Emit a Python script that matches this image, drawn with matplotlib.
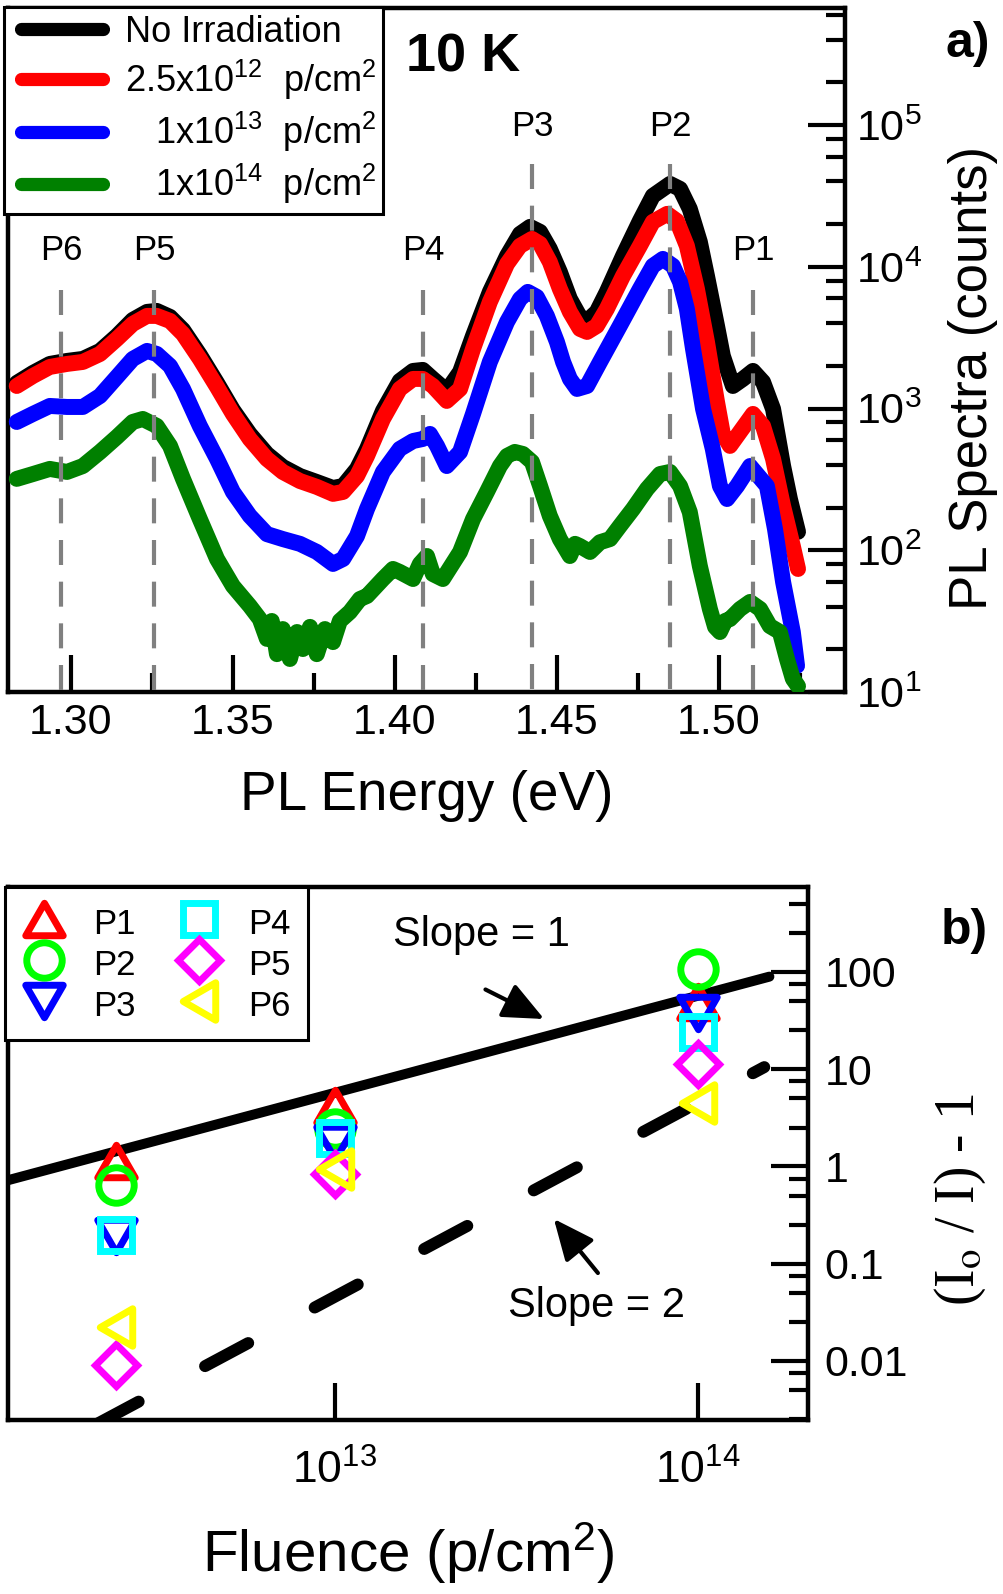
import matplotlib
matplotlib.use("Agg")
import matplotlib.pyplot as plt
from matplotlib.lines import Line2D
from matplotlib.path import Path
from matplotlib.legend_handler import HandlerLine2D
from matplotlib.ticker import (LogLocator, NullLocator, NullFormatter, FuncFormatter,
                               MultipleLocator, LogFormatterSciNotation)

plt.rcParams['font.family'] = 'Liberation Sans'
plt.rcParams['mathtext.fontset'] = 'custom'
plt.rcParams['mathtext.rm'] = 'Liberation Sans'
plt.rcParams['mathtext.it'] = 'Liberation Sans:italic'
plt.rcParams['mathtext.bf'] = 'Liberation Sans:bold'

# ---------------- panel a) : PL spectra at 10 K ----------------
e_black = [1.2833, 1.2883, 1.2935, 1.2988, 1.3037, 1.3090, 1.3142, 1.3191, 1.3235, 1.3265,
           1.3306, 1.3346, 1.3398, 1.3451, 1.3500, 1.3552, 1.3605, 1.3654, 1.3707, 1.3759,
           1.3809, 1.3840, 1.3883, 1.3914, 1.3963, 1.4015, 1.4056, 1.4086, 1.4117, 1.4160,
           1.4201, 1.4241, 1.4293, 1.4346, 1.4386, 1.4417, 1.4448, 1.4478, 1.4509, 1.4540,
           1.4571, 1.4593, 1.4623, 1.4654, 1.4704, 1.4756, 1.4796, 1.4849, 1.4880, 1.4910,
           1.4941, 1.4963, 1.4994, 1.5012, 1.5043, 1.5074, 1.5105, 1.5136, 1.5167, 1.5198,
           1.5219, 1.5244]
pl_black = [1515, 1783, 2064, 2167, 2239, 2550, 3253, 4220, 4806, 4885,
            4431, 3587, 2389, 1515, 977, 662, 478, 387, 334, 303,
            275, 284, 375, 519, 962, 1565, 1842, 1873, 1618, 1331,
            1812, 3253, 6651, 11940, 17070, 19130, 17640, 13380, 9204, 5935,
            4431, 4151, 4806, 6651, 11940, 21090, 31650, 38460, 35450, 25620,
            14990, 8627, 3828, 2351, 1443, 1618, 1842, 1540, 993, 393,
            230, 135]

e_red = [1.2833, 1.2883, 1.2935, 1.2988, 1.3037, 1.3090, 1.3142, 1.3191, 1.3235, 1.3265,
         1.3306, 1.3346, 1.3398, 1.3451, 1.3500, 1.3552, 1.3605, 1.3654, 1.3707, 1.3759,
         1.3809, 1.3840, 1.3883, 1.3914, 1.3963, 1.4015, 1.4056, 1.4086, 1.4117, 1.4160,
         1.4201, 1.4241, 1.4293, 1.4346, 1.4386, 1.4423, 1.4448, 1.4478, 1.4509, 1.4540,
         1.4571, 1.4593, 1.4623, 1.4654, 1.4704, 1.4756, 1.4796, 1.4840, 1.4870, 1.4901,
         1.4932, 1.4963, 1.4994, 1.5012, 1.5034, 1.5065, 1.5105, 1.5136, 1.5167, 1.5198,
         1.5228, 1.5244]
pl_red = [1443, 1698, 1966, 2064, 2132, 2428, 3099, 3955, 4504, 4504,
          4151, 3361, 2239, 1420, 916, 610, 441, 357, 308, 280,
          250, 258, 334, 463, 844, 1375, 1618, 1618, 1443, 1132,
          1375, 2634, 5652, 10480, 14050, 15730, 14510, 10830, 6985, 4806,
          3646, 3472, 3828, 5047, 8627, 14050, 20750, 23630, 21090, 14050,
          6985, 2951, 1113, 662, 545, 684, 916, 754, 441, 205,
          107, 73.8]

e_blue = [1.2833, 1.2883, 1.2935, 1.2988, 1.3037, 1.3090, 1.3142, 1.3191, 1.3235, 1.3265,
          1.3306, 1.3346, 1.3398, 1.3451, 1.3500, 1.3552, 1.3605, 1.3654, 1.3707, 1.3759,
          1.3809, 1.3840, 1.3883, 1.3914, 1.3963, 1.4015, 1.4056, 1.4086, 1.4108, 1.4130,
          1.4160, 1.4201, 1.4241, 1.4293, 1.4346, 1.4386, 1.4410, 1.4438, 1.4469, 1.4500,
          1.4519, 1.4540, 1.4562, 1.4593, 1.4633, 1.4694, 1.4756, 1.4796, 1.4827, 1.4858,
          1.4880, 1.4901, 1.4920, 1.4951, 1.4981, 1.5003, 1.5025, 1.5056, 1.5096, 1.5148,
          1.5173, 1.5198, 1.5228, 1.5241]
pl_blue = [804, 916, 1043, 1026, 1026, 1227, 1671, 2239, 2550, 2428,
           1998, 1375, 754, 441, 258, 175, 130, 120, 111, 97.3,
           80.1, 86.8, 126, 196, 357, 519, 590, 610, 662, 545,
           393, 494, 916, 2132, 4085, 5935, 6651, 6134, 4504, 2951,
           2132, 1618, 1375, 1443, 2132, 3828, 6985, 10150, 11370, 10150,
           7825, 5047, 2634, 993, 519, 284, 230, 284, 393, 284,
           141, 59.7, 26.5, 15.3]

e_green = [1.2833, 1.2883, 1.2935, 1.2988, 1.3037, 1.3090, 1.3142, 1.3191, 1.3222, 1.3265,
           1.3306, 1.3346, 1.3398, 1.3451, 1.3500, 1.3552, 1.3583, 1.3605, 1.3620, 1.3636,
           1.3654, 1.3676, 1.3698, 1.3716, 1.3738, 1.3759, 1.3784, 1.3809, 1.3830, 1.3861,
           1.3892, 1.3914, 1.3963, 1.3994, 1.4015, 1.4056, 1.4077, 1.4099, 1.4117, 1.4148,
           1.4201, 1.4241, 1.4284, 1.4324, 1.4346, 1.4370, 1.4395, 1.4423, 1.4448, 1.4478,
           1.4509, 1.4540, 1.4556, 1.4571, 1.4602, 1.4633, 1.4664, 1.4694, 1.4735, 1.4778,
           1.4818, 1.4849, 1.4880, 1.4910, 1.4941, 1.4972, 1.4988, 1.5003, 1.5019, 1.5034,
           1.5065, 1.5096, 1.5127, 1.5157, 1.5188, 1.5210, 1.5228, 1.5244]
pl_green = [319, 345, 375, 357, 393, 494, 630, 804, 844, 754,
            545, 319, 166, 86.8, 56.0, 40.5, 32.7, 23.7, 31.7, 18.5,
            27.8, 17.1, 26.5, 20.1, 28.8, 18.5, 27.8, 22.5, 31.7, 36.7,
            45.3, 47.6, 62.7, 73.8, 70.3, 62.7, 80.1, 91.1, 68.0, 62.7,
            97.3, 166, 258, 393, 463, 494, 478, 420, 284, 175,
            120, 91.1, 111, 107, 97.3, 114, 120, 148, 196, 271,
            345, 357, 284, 186, 77.5, 38.5, 28.8, 26.5, 31.7, 32.7,
            38.5, 43.2, 38.5, 29.2, 26.5, 17.1, 12.4, 11.0]

spectra_labels = ["No Irradiation",
                  "2.5x10$^{12}$  p/cm$^2$",
                  "   1x10$^{13}$  p/cm$^2$",
                  "   1x10$^{14}$  p/cm$^2$"]

peak_names = ["P1", "P2", "P3", "P4", "P5", "P6"]
peak_energy = [1.5105, 1.4849, 1.4423, 1.4087, 1.3257, 1.2969]

# ---------------- panel b) : (I0/I)-1 vs fluence ----------------
fluence = [2.5e12, 1e13, 1e14]
ratio_p1 = [1.14, 4.2, 49]
ratio_p2 = [0.64, 2.4, 107]
ratio_p3 = [0.19, 1.74, 38]
ratio_p4 = [0.197, 1.96, 24]
ratio_p5 = [0.0091, 0.84, 11.3]
ratio_p6 = [0.0223, 0.94, 4.5]

slope1_fluence = [1.0e12, 1.57e14]
slope1_value = [0.57, 89.5]
slope2_fluence = [2.2e12, 1.52e14]
slope2_value = [0.0022, 10.5]

W, H = 1004, 1594
fig = plt.figure(figsize=(W / 100, H / 100), dpi=100)


def px_axes(left, top, right, bottom):
    return fig.add_axes([left / W, 1 - bottom / H, (right - left) / W, (bottom - top) / H])


def style_axes(ax):
    for sp in ax.spines.values():
        sp.set_linewidth(3.2)
    ax.yaxis.tick_right()
    ax.yaxis.set_label_position('right')
    ax.tick_params(which='both', direction='in', width=3, top=False, left=False,
                   right=True, bottom=True, labelleft=False, labelright=True)
    ax.tick_params(which='major', length=26.5)
    ax.tick_params(which='minor', length=13.5)


# ---- top panel ----
ax = px_axes(8, 8, 845, 692)
style_axes(ax)
spec_kw = dict(lw=11.5, solid_capstyle='round', solid_joinstyle='round')
ax.plot(e_black, pl_black, color='black', zorder=2, **spec_kw)
ax.plot(e_red, pl_red, color='#ff0000', zorder=3, **spec_kw)
ax.plot(e_blue, pl_blue, color='#0000ff', zorder=3, **spec_kw)
ax.plot(e_green, pl_green, color='#008000', zorder=3, **spec_kw)

for name, en in zip(peak_names, peak_energy):
    high = name in ("P2", "P3")
    top = 53200 if high else 6870
    ax.plot([en, en], [top, 10], color='#808080', lw=3, linestyle=(0, (6, 4)),
            dash_capstyle='butt', zorder=5)
    ax.text(en, 97000 if high else 12940, name, fontsize=25, ha='center', va='center')

ax.set_yscale('log')
ax.set_xlim(1.2806, 1.5389)
ax.set_ylim(10, 6.7e5)
ax.xaxis.set_major_locator(MultipleLocator(0.05))
ax.xaxis.set_minor_locator(MultipleLocator(0.025))
ax.xaxis.set_major_formatter(FuncFormatter(lambda v, p: f"{v:.2f}"))
ax.yaxis.set_major_locator(LogLocator(base=10, numticks=10))
ax.yaxis.set_minor_locator(LogLocator(base=10, subs=[2, 4, 6, 8], numticks=10))
ax.yaxis.set_major_formatter(LogFormatterSciNotation())
ax.yaxis.set_minor_formatter(NullFormatter())
ax.tick_params(axis='both', which='major', labelsize=31, pad=8)

ax.set_xlabel("PL Energy (eV)", fontsize=39.5, labelpad=19)
ax.set_ylabel("PL Spectra (counts)", fontsize=38)
ax.yaxis.set_label_coords((948 - 8) / 837, 1 - (378 - 8) / 684)

handles = [Line2D([], [], color=c, lw=9.5, solid_capstyle='round')
           for c in ['black', '#ff0000', '#0000ff', '#008000']]
leg = ax.legend(handles, spectra_labels, loc='upper left', mode='expand',
                bbox_to_anchor=(4 / W, 1 - 212 / H, 379 / W, 205 / H),
                bbox_transform=fig.transFigure, borderaxespad=0, fontsize=26,
                handlelength=2.53, handletextpad=0.6, borderpad=0.22,
                labelspacing=0.22, fancybox=False, framealpha=1, edgecolor='black',
                handler_map={Line2D: HandlerLine2D(xpad=0.26)})
leg.get_frame().set_linewidth(2.2)

ax.text((406 - 8) / 837, 1 - (57 - 8) / 684, "10 K", transform=ax.transAxes,
        fontsize=39, fontweight='bold', ha='left', va='center')
fig.text(968 / W, 1 - 44 / H, "a)", fontsize=36, fontweight='bold', ha='center', va='center')

# ---- bottom panel ----
ax2 = px_axes(8, 887, 808, 1420)
style_axes(ax2)

ax2.plot(slope1_fluence, slope1_value, color='black', lw=7.2, solid_capstyle='round', zorder=2)
ax2.plot(slope2_fluence, slope2_value, color='black', lw=8.6, linestyle=(0, (4.1, 6.3)),
         dash_capstyle='round', zorder=2)

tri_up = Path([(0, 0.866), (-1, -0.866), (1, -0.866), (0, 0.866)], closed=True)
tri_down = Path([(0, -0.866), (-1, 0.866), (1, 0.866), (0, -0.866)], closed=True)
tri_left = Path([(-0.866, 0), (0.866, 1), (0.866, -1), (-0.866, 0)], closed=True)

series = [
    ("P1", ratio_p1, '#ff0000', tri_up, 27),
    ("P2", ratio_p2, '#00ff00', 'o', 25.5),
    ("P3", ratio_p3, '#0000ff', tri_down, 27),
    ("P4", ratio_p4, '#00ffff', 's', 22.5),
    ("P5", ratio_p5, '#ff00ff', 'D', 21.5),
    ("P6", ratio_p6, '#ffff00', tri_left, 27),
]
mk_lines = []
for name, vals, col, mk, ms in series:
    ln, = ax2.plot(fluence, vals, linestyle='none', marker=mk, markersize=ms,
                   markerfacecolor='none', markeredgecolor=col, markeredgewidth=5,
                   label=name, zorder=4)
    mk_lines.append(ln)

ax2.set_xscale('log')
ax2.set_yscale('log')
ax2.set_xlim(1.264e12, 2.005e14)
ax2.set_ylim(0.00246, 748)
ax2.xaxis.set_major_locator(LogLocator(base=10, numticks=10))
ax2.xaxis.set_minor_locator(NullLocator())
ax2.xaxis.set_major_formatter(LogFormatterSciNotation())
ax2.yaxis.set_major_locator(LogLocator(base=10, numticks=10))
ax2.yaxis.set_minor_locator(LogLocator(base=10, subs=[2.5, 5, 7.5], numticks=10))
ax2.yaxis.set_major_formatter(FuncFormatter(lambda v, p: f"{v:g}"))
ax2.yaxis.set_minor_formatter(NullFormatter())
ax2.tick_params(axis='x', which='major', labelsize=32, pad=21)
ax2.tick_params(axis='y', which='major', labelsize=31, pad=12)

ax2.set_xlabel("Fluence (p/cm$^2$)", fontsize=42, labelpad=20)
ax2.set_ylabel("(I$_\\mathrm{o}$ / I) - 1", fontsize=40, family='Liberation Serif',
               math_fontfamily='stix')
ax2.yaxis.set_label_coords((933 - 8) / 800, 1 - (1200 - 887) / 533)

arrow = dict(arrowstyle='-|>,head_length=0.9,head_width=0.4', color='black', lw=3,
             mutation_scale=28, shrinkA=0, shrinkB=0)
ax2.text(2.54e13, 240, "Slope = 1", fontsize=30, ha='center', va='center')
ax2.annotate("", xy=(3.77e13, 32.8), xytext=(2.6e13, 66), arrowprops=arrow)
ax2.text(5.25e13, 0.0366, "Slope = 2", fontsize=30, ha='center', va='center')
ax2.annotate("", xy=(4.01e13, 0.288), xytext=(5.3e13, 0.080), arrowprops=arrow)

leg2 = ax2.legend(handles=mk_lines, ncol=2, loc='upper left', bbox_to_anchor=(5 / W, 1 - 887 / H),
                  bbox_transform=fig.transFigure, borderaxespad=0, fontsize=25,
                  handlelength=1.27, handleheight=1.2, handletextpad=0.78, borderpad=0.5,
                  columnspacing=1.18, labelspacing=0.13, numpoints=1, fancybox=False,
                  framealpha=1, edgecolor='black')
leg2.get_frame().set_linewidth(2.2)

fig.text(964 / W, 1 - 931 / H, "b)", fontsize=36, fontweight='bold', ha='center', va='center')

fig.savefig("out.png", dpi=100)
